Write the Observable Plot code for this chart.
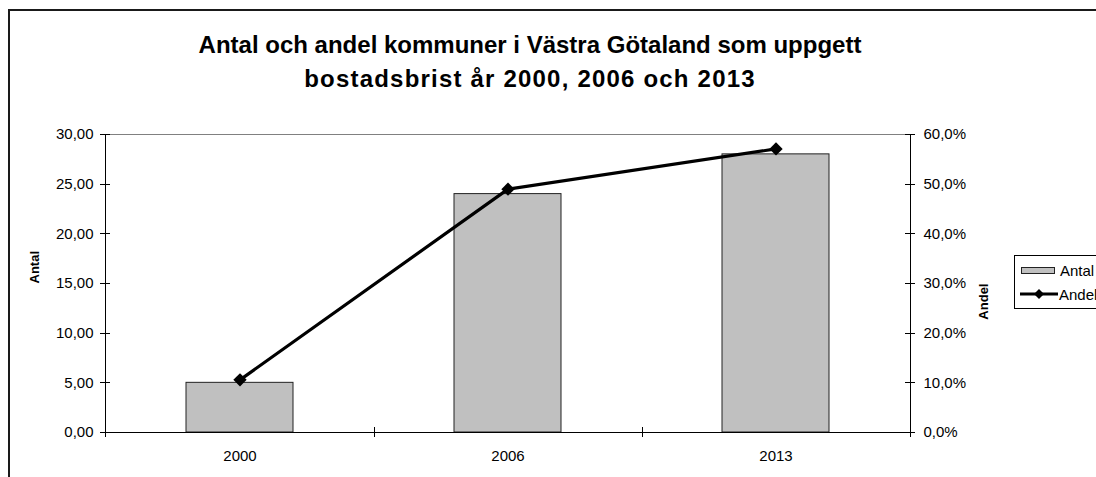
<!DOCTYPE html>
<html><head><meta charset="utf-8">
<script src="https://cdn.jsdelivr.net/npm/d3@7"></script>
<script src="https://cdn.jsdelivr.net/npm/@observablehq/plot@0.6"></script>
<style>
body{margin:0;background:#fff;}
#wrap{position:relative;width:1096px;height:477px;overflow:hidden;font-family:"Liberation Sans",Arial,sans-serif;background:#fff;}
#border{position:absolute;left:8px;top:9px;width:1200px;height:700px;border:2px solid #1a1a1a;box-sizing:border-box;}
#title{position:absolute;left:0;width:1060px;top:28px;text-align:center;font-weight:bold;font-size:24px;line-height:34px;color:#000;}
#title .l2{letter-spacing:1.2px;}
#chart{position:absolute;left:0;top:0;}
#legend{position:absolute;left:1014px;top:255px;width:120px;height:54px;border:1px solid #000;box-sizing:border-box;background:#fff;font-size:15px;color:#000;}
#legend .row{position:absolute;left:0;height:20px;display:flex;align-items:center;}
#legend .row span{margin-left:3px;}
</style></head><body>
<div id="wrap">
  <div id="border"></div>
  <div id="title">Antal och andel kommuner i Västra Götaland som uppgett<br><span class="l2">bostadsbrist år 2000, 2006 och 2013</span></div>
  <div id="chart"></div>
  <div id="legend"></div>
</div>
<script>
const years = ["2000", "2006", "2013"];
const antal = [5, 24, 28];
const andel = [10.6, 49.0, 57.1];      // percent
const antalTicks = [0, 5, 10, 15, 20, 25, 30];
const andelTicks = [0, 10, 20, 30, 40, 50, 60];
const seriesNames = ["Antal", "Andel"];

const rows = years.map((y, i) => ({year: y, antal: antal[i], andel: andel[i]}));
const andelToY = v => v / 2;   // 60% on right axis = 30 on left axis

function frameLines(index, scales, values, dim) {
  const {x, y} = scales;
  const L = dim.marginLeft, R = dim.width - dim.marginRight;
  const T = dim.marginTop, B = dim.height - dim.marginBottom;
  const g = d3.create("svg:g").attr("fill", "none");
  g.append("line").attr("x1", L).attr("x2", R).attr("y1", T + 0.5).attr("y2", T + 0.5).attr("stroke", "#808080");
  g.append("line").attr("x1", L + 0.5).attr("x2", L + 0.5).attr("y1", T).attr("y2", B).attr("stroke", "#000");
  g.append("line").attr("x1", R + 0.5).attr("x2", R + 0.5).attr("y1", T).attr("y2", B).attr("stroke", "#000");
  g.append("line").attr("x1", L).attr("x2", R).attr("y1", B + 0.5).attr("y2", B + 0.5).attr("stroke", "#000");
  for (const t of antalTicks) {
    const yy = Math.round(y(t)) + 0.5;
    g.append("line").attr("x1", L - 5).attr("x2", L + 5).attr("y1", yy).attr("y2", yy).attr("stroke", "#000");
  }
  for (const t of andelTicks) {
    const yy = Math.round(y(andelToY(t))) + 0.5;
    g.append("line").attr("x1", R - 5).attr("x2", R + 5).attr("y1", yy).attr("y2", yy).attr("stroke", "#000");
  }
  const bw = x.bandwidth();
  const bounds = [L];
  for (let i = 1; i < years.length; i++) bounds.push((x(years[i - 1]) + bw + x(years[i])) / 2);
  bounds.push(R);
  for (const b of bounds) {
    const xx = Math.round(b) + 0.5;
    g.append("line").attr("x1", xx).attr("x2", xx).attr("y1", B - 5).attr("y2", B + 5).attr("stroke", "#000");
  }
  return g.node();
}

const chart = Plot.plot({
  width: 1096,
  height: 477,
  marginLeft: 105,
  marginRight: 186,
  marginTop: 134,
  marginBottom: 45,
  style: {fontFamily: "'Liberation Sans', Arial, sans-serif", fontSize: "15px", color: "#000", background: "transparent", overflow: "visible"},
  x: {domain: years, paddingInner: 0.6, paddingOuter: 0.3, axis: null},
  y: {domain: [0, 30], axis: null},
  marks: [
    Plot.barY(rows, {x: "year", y: "antal", fill: "#c0c0c0", stroke: "#222", strokeWidth: 1}),
    frameLines,
    Plot.axisX({tickSize: 0, tickPadding: 18, label: null}),
    Plot.axisY(antalTicks, {anchor: "left", tickSize: 0, tickPadding: 12, label: null,
      tickFormat: d => d.toFixed(2).replace(".", ",")}),
    Plot.axisY(andelTicks.map(andelToY), {anchor: "right", tickSize: 0, tickPadding: 13, label: null,
      tickFormat: d => (d * 2).toFixed(1).replace(".", ",") + "%"}),
    Plot.line(rows, {x: "year", y: d => andelToY(d.andel), stroke: "#000", strokeWidth: 3.2}),
    Plot.dot(rows, {x: "year", y: d => andelToY(d.andel), symbol: "diamond2", r: 6, fill: "#000", stroke: "none"}),
    Plot.text([seriesNames[0]], {frameAnchor: "left", dx: -71, rotate: -90, text: d => d, fontWeight: "bold", fontSize: 13}),
    Plot.text([seriesNames[1]], {frameAnchor: "right", dx: 73, rotate: -90, text: d => d, fontWeight: "bold", fontSize: 13})
  ]
});
document.getElementById("chart").appendChild(chart);

const legend = document.getElementById("legend");
const r1 = document.createElement("div");
r1.className = "row"; r1.style.top = "4px"; r1.style.left = "6px";
r1.innerHTML = `<svg width="36" height="10"><rect x="0.5" y="2.5" width="33" height="6" fill="#c0c0c0" stroke="#222"/></svg><span>${seriesNames[0]}</span>`;
const r2 = document.createElement("div");
r2.className = "row"; r2.style.top = "28px"; r2.style.left = "5px";
r2.innerHTML = `<svg width="38" height="14"><line x1="0" x2="38" y1="7" y2="7" stroke="#000" stroke-width="3"/><path d="M19,2 L24,7 L19,12 L14,7 Z" fill="#000"/></svg><span style="margin-left:1px">${seriesNames[1]}</span>`;
legend.appendChild(r1); legend.appendChild(r2);
</script>
</body></html>
